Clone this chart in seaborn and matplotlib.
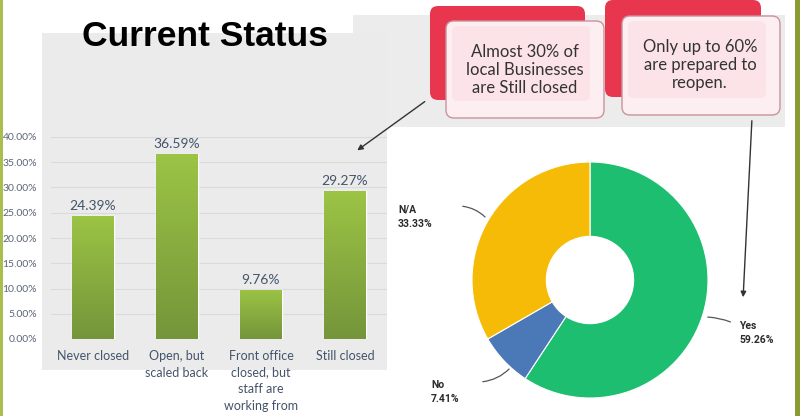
import numpy as np
import pandas as pd
import matplotlib
matplotlib.use("Agg")
import matplotlib.pyplot as plt
from matplotlib.patches import Rectangle, FancyBboxPatch
from matplotlib.ticker import FuncFormatter
import seaborn as sns

# DATA
status_labels = ["Never closed", "Open, but\nscaled back",
                 "Front office\nclosed, but\nstaff are\nworking from\nhome", "Still closed"]
status_share = [24.39, 36.59, 9.76, 29.27]

reopen_labels = ["Yes", "No", "N/A"]
reopen_share = [59.26, 7.41, 33.33]
reopen_colors = ["#1DBE70", "#4B78B6", "#F6BB06"]

callout_texts = ["Almost 30% of\nlocal Businesses\nare Still closed",
                 "Only up to 60%\nare prepared to\nreopen."]

sns.set_theme(style="white")
plt.rcParams["font.family"] = ["Lato", "DejaVu Sans"]

W, H = 800, 416
fig = plt.figure(figsize=(8, 4.16), dpi=100)
fig.patch.set_facecolor("white")

def fx(x):
    return x / W

def fy(y):
    return 1 - y / H

# background layer (pixel coords)
bg = fig.add_axes([0, 0, 1, 1], zorder=0)
bg.set_xlim(0, W)
bg.set_ylim(H, 0)
bg.axis("off")
bg.add_patch(Rectangle((353, 15), 432, 112, color="#ECECEC", lw=0))
bg.add_patch(Rectangle((42, 33), 345, 337, color="#EBEBEB", lw=0))
bg.add_patch(Rectangle((0, 0), 2.5, H, color="#A9BE4C", lw=0))
bg.add_patch(Rectangle((795, 0), 5, H, color="#8A9B33", lw=0))
bg.text(82, 37, "Current Status", fontsize=25.5, fontweight="bold",
        family="Liberation Sans", color="black", va="center", ha="left")

# bar chart
df = pd.DataFrame({"status": status_labels, "share": np.array(status_share) / 100})
ax = fig.add_axes([fx(51), fy(339), 336 / W, 202 / H], zorder=1)
ax.set_facecolor("none")
sns.barplot(data=df, x="status", y="share", color="#8AB23F", width=0.5, ax=ax)
ax.set_ylim(0, 0.40)
ax.set_yticks(np.arange(0, 0.401, 0.05))
ax.yaxis.set_major_formatter(FuncFormatter(lambda v, p: f"{v * 100:.2f}%"))
ax.grid(axis="y", color="#DADADA", lw=0.8)
ax.set_axisbelow(True)
sns.despine(ax=ax, left=True, bottom=True)
ax.set_xlabel("")
ax.set_ylabel("")
ax.tick_params(axis="y", labelsize=7.5, labelcolor="#5B6577", length=0, pad=10)
ax.tick_params(axis="x", labelsize=9, labelcolor="#44546A", length=0, pad=8)
for t in ax.get_xticklabels():
    t.set_linespacing(1.45)

# vertical gradient on bars
grad = np.linspace(0, 1, 256).reshape(-1, 1)
cmap = matplotlib.colors.LinearSegmentedColormap.from_list("g", ["#74953A", "#9CC445"])
for p in ax.patches:
    x0, y0 = p.get_x(), p.get_y()
    im = ax.imshow(grad, extent=[x0, x0 + p.get_width(), y0, y0 + p.get_height()],
                   origin="lower", cmap=cmap, aspect="auto", zorder=p.get_zorder())
    im.set_clip_path(p)
ax.set_xlim(-0.5, len(status_labels) - 0.5)
ax.set_ylim(0, 0.40)
ax.bar_label(ax.containers[0], labels=[f"{v:.2f}%" for v in status_share],
             padding=3, fontsize=10, color="#44546A")

# donut
pax = fig.add_axes([fx(472), fy(398), 236 / W, 236 / H], zorder=2)
pax.pie(reopen_share, colors=reopen_colors, startangle=90, counterclock=False,
        wedgeprops=dict(width=0.63, edgecolor="white", linewidth=0.8))
pax.set_xlim(-1, 1)
pax.set_ylim(-1, 1)

# foreground layer
fg = fig.add_axes([0, 0, 1, 1], zorder=5)
fg.set_xlim(0, W)
fg.set_ylim(H, 0)
fg.axis("off")

# donut labels with leader lines (pixel positions)
label_pos = {"Yes": (739, 333), "No": (431, 392), "N/A": (398, 217)}
leaders = {"Yes": ((733, 323), (705, 317), "arc3,rad=0.1"),
           "No": ((480, 382), (511, 367), "arc3,rad=0.2"),
           "N/A": ((460, 206), (487, 219), "arc3,rad=-0.2")}
for lab, val in zip(reopen_labels, reopen_share):
    x, y = label_pos[lab]
    fg.text(x, y, f"{lab}\n{val:.2f}%", fontsize=7.5, fontweight="bold",
            family="Roboto", color="#2B2B2B", ha="left", va="center", linespacing=1.6)
    a, b, cs = leaders[lab]
    fg.annotate("", xy=b, xytext=a,
                arrowprops=dict(arrowstyle="-", color="#555555", lw=0.9, connectionstyle=cs))

# callouts
boxes = [((430, 6, 155, 94), (446, 21, 158, 97), (525, 70)),
         ((605, 0, 156, 97), (622, 16, 158, 99), (700, 65))]
for (back, front, tpos), txt in zip(boxes, callout_texts):
    bx, by, bw, bh = back
    fg.add_patch(FancyBboxPatch((bx, by), bw, bh, boxstyle="round,pad=0,rounding_size=8",
                                fc="#E8364F", ec="none"))
    fx0, fy0, fw, fh = front
    fg.add_patch(FancyBboxPatch((fx0, fy0), fw, fh, boxstyle="round,pad=0,rounding_size=8",
                                fc="#FDEFF1", ec="#C9939C", lw=1))
    fg.add_patch(FancyBboxPatch((fx0 + 6, fy0 + 5), fw - 20, fh - 22,
                                boxstyle="round,pad=0,rounding_size=6",
                                fc="#FBE3E7", ec="none"))
    fg.text(tpos[0], tpos[1], txt, fontsize=12, color="#333333", ha="center",
            va="center", linespacing=1.15, family="Lato")

# arrows
fg.annotate("", xy=(355, 152), xytext=(427, 100),
            arrowprops=dict(arrowstyle="-|>", color="#333333", lw=1, mutation_scale=8))
fg.annotate("", xy=(743, 300), xytext=(752, 118),
            arrowprops=dict(arrowstyle="-|>", color="#333333", lw=1, mutation_scale=8))

fig.savefig("out.png", dpi=100, facecolor="white")
